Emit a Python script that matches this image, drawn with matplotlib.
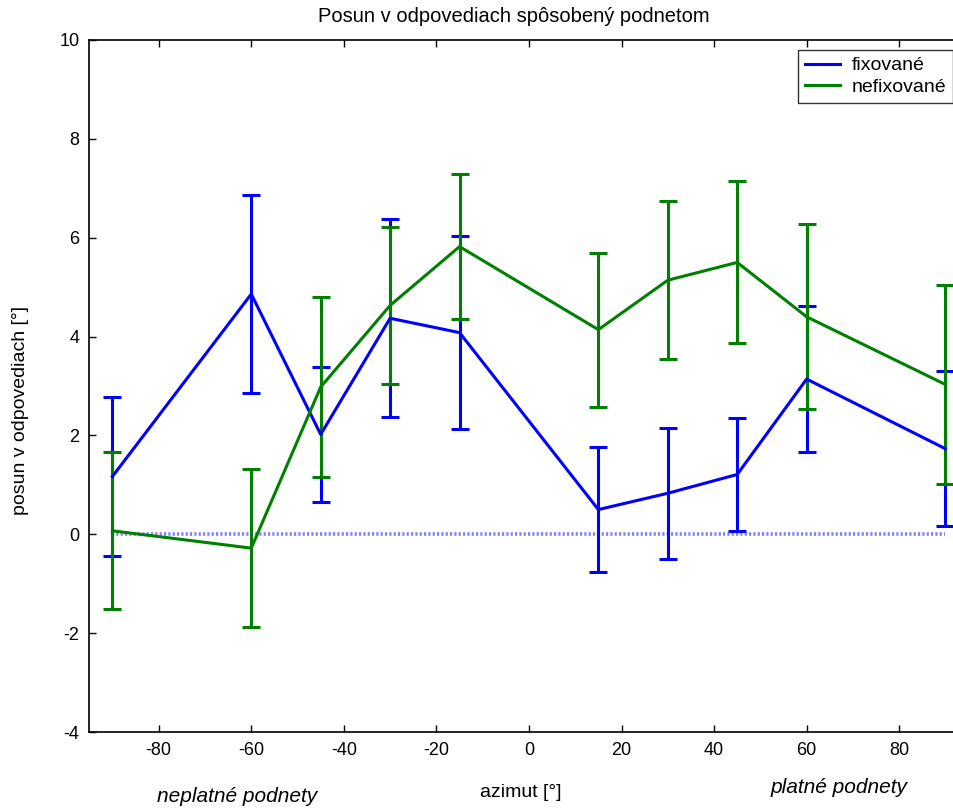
import numpy as np
import matplotlib
matplotlib.use('Agg')
import matplotlib.pyplot as plt
from matplotlib.lines import Line2D

plt.rcParams['font.family'] = ['Liberation Sans', 'DejaVu Sans']
plt.rcParams['axes.unicode_minus'] = False

# azimut [°]
azimut = [-90, -60, -45, -30, -15, 15, 30, 45, 60, 90]

# fixované
fix_mean = [1.17, 4.86, 2.02, 4.37, 4.08, 0.50, 0.83, 1.21, 3.14, 1.73]
fix_err = [1.60, 2.01, 1.36, 2.00, 1.95, 1.26, 1.33, 1.15, 1.47, 1.57]

# nefixované
nefix_mean = [0.07, -0.28, 2.98, 4.63, 5.82, 4.14, 5.14, 5.50, 4.40, 3.03]
nefix_err = [1.59, 1.60, 1.82, 1.58, 1.46, 1.56, 1.60, 1.64, 1.87, 2.02]

fig = plt.figure(figsize=(9.54, 8.11), dpi=100)
ax = fig.add_axes([0.0936, 0.0974, 0.9217, 0.8533])

blue = (0, 0, 1)
green = (0, 0.5, 0)

ax.errorbar(azimut, fix_mean, yerr=fix_err, color=blue, lw=2.2,
            capsize=6.5, capthick=2.2, zorder=3)
ax.errorbar(azimut, nefix_mean, yerr=nefix_err, color=green, lw=2.2,
            capsize=6.5, capthick=2.2, zorder=3)

# nulova ciara
ax.plot([azimut[0], azimut[-1]], [0, 0], color=(0.5, 0.5, 1.0),
        lw=2.6, dashes=(0.6, 0.6), zorder=2)

ax.set_xlim(-95, 95)
ax.set_ylim(-4, 10)
ax.set_xticks(np.arange(-80, 81, 20))
ax.set_yticks(np.arange(-4, 11, 2))
ax.tick_params(direction='in', length=5, width=1, top=True, right=True,
               labelsize=13, pad=7)
for s in ax.spines.values():
    s.set_linewidth(1.2)

ax.set_title('Posun v odpovediach spôsobený podnetom', fontsize=14.5,
             x=0.483, pad=13)
ax.set_xlabel('azimut [°]', fontsize=14, va='top')
ax.xaxis.set_label_coords(0.491, -0.075)
ax.set_ylabel('posun v odpovediach [°]', fontsize=14)
ax.yaxis.set_label_coords(-0.069, 0.464)

ax.text(-63, -5.31, 'neplatné podnety', style='italic', fontsize=15,
        ha='center', va='center', clip_on=False)
ax.text(67, -5.13, 'platné podnety', style='italic', fontsize=15,
        ha='center', va='center', clip_on=False)

handles = [Line2D([], [], color=blue, lw=2.2),
           Line2D([], [], color=green, lw=2.2)]
leg = ax.legend(handles, ['fixované', 'nefixované'], loc='upper right',
                bbox_to_anchor=(0.9823, 0.9855), fontsize=14, frameon=True,
                fancybox=False, edgecolor='black', handlelength=1.8,
                handletextpad=0.6, borderpad=0.35, labelspacing=0.2,
                borderaxespad=0)
leg.get_frame().set_linewidth(1.0)

fig.savefig('out.png', dpi=100)
